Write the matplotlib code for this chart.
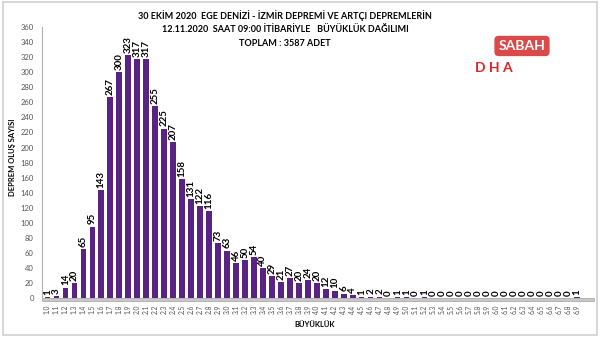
import matplotlib.pyplot as plt
from matplotlib.patches import Rectangle

# ---- Magnitude bins and earthquake counts ----
magnitudes = [f"{m / 10:.1f}" for m in range(10, 70)]
counts = [1, 3, 14, 20, 65, 95, 143, 267, 300, 323,
          317, 317, 255, 225, 207, 158, 131, 122, 116, 73,
          63, 46, 50, 54, 40, 29, 21, 27, 20, 24,
          20, 12, 10, 6, 4, 1, 2, 2, 0, 1,
          1, 0, 1, 0, 0, 0, 0, 0, 0, 0,
          0, 0, 0, 0, 0, 0, 0, 0, 0, 1]

title_lines = ["30 EKİM 2020  EGE DENİZİ - İZMİR DEPREMİ VE ARTÇI DEPREMLERİN",
               "12.11.2020  SAAT 09:00 İTİBARİYLE   BÜYÜKLÜK DAĞILIMI",
               "TOPLAM : 3587 ADET"]
y_ticks = list(range(0, 361, 20))

plt.rcParams['font.family'] = ['Lato', 'DejaVu Sans']

fig = plt.figure(figsize=(6, 3.38), dpi=100)
ax = fig.add_axes([0.07, 0.118, 0.913, 0.802])

# ---- outer chart frame ----
fig.patches.append(Rectangle((0.005, 0.008), 0.99, 0.985, transform=fig.transFigure,
                             fill=False, edgecolor="#cfcfcf", linewidth=1.2))

x = list(range(len(counts)))
bar_color = "#5a2383"

# gray floor under the bars
ax.add_patch(Rectangle((-0.6, -3.5), 61.5, 3.5, facecolor="#c8c8c8",
                       edgecolor="#a0a0a0", linewidth=0.5, clip_on=False, zorder=1))
ax.bar(x, counts, width=0.62, color=bar_color, zorder=2)

for xi, c in zip(x, counts):
    ax.text(xi, c + 3, str(c), rotation=90, ha="center", va="bottom",
            fontsize=7, fontweight="bold", color="black")

ax.set_xlim(-0.6, 60.4)
ax.set_ylim(0, 360)
ax.set_yticks(y_ticks)
ax.tick_params(axis="y", labelsize=5.5, labelcolor="#555555", length=0, pad=6)
ax.set_xticks(x)
ax.set_xticklabels(magnitudes, rotation=90, fontsize=4.8, color="#555555")
ax.tick_params(axis="x", length=0, pad=5)

for side in ["top", "right", "bottom"]:
    ax.spines[side].set_visible(False)
ax.spines["left"].set_color("#b0b0b0")
ax.spines["left"].set_linewidth(0.8)

ax.set_ylabel("DEPREM OLUŞ SAYISI", fontsize=5.5, fontweight="bold")
ax.yaxis.set_label_coords(-0.048, 0.52)
fig.text(0.525, 0.04, "BÜYÜKLÜK", fontsize=5.5, fontweight="bold", ha="center", va="center")

for i, line in enumerate(title_lines):
    fig.text(0.475, 0.955 - i * 0.042, line, fontsize=6.5, fontweight="bold",
             ha="center", va="center")

# ---- agency logos ----
fig.text(0.87, 0.864, "SABAH", fontsize=10, fontweight="bold", color="white",
         ha="center", va="center",
         bbox=dict(boxstyle="round,pad=0.3", facecolor="#d42a2a", edgecolor="none", alpha=0.85))
fig.text(0.823, 0.80, "D H A", fontsize=10, fontweight="bold", color="#e0242a",
         ha="center", va="center")

fig.savefig("out.png", dpi=100)
